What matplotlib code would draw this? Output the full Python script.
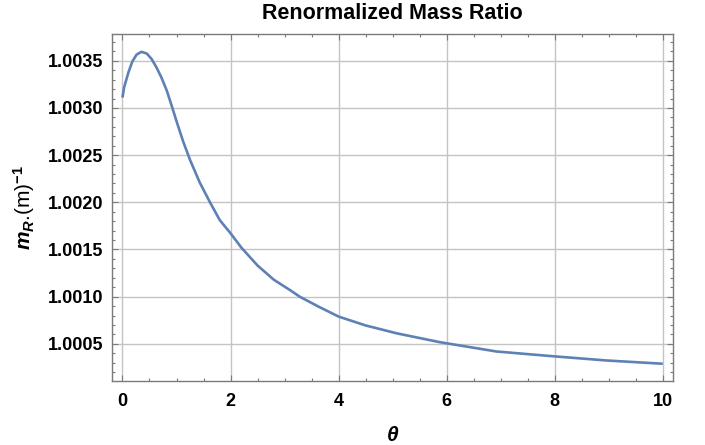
#!/usr/bin/env python3
"""Renormalized mass ratio vs theta, redrawn in matplotlib."""

import matplotlib
matplotlib.use("Agg")
import matplotlib.pyplot as plt
from matplotlib.ticker import MultipleLocator, FormatStrFormatter

# values
theta = [0.00, 0.03, 0.11, 0.18, 0.26, 0.35, 0.45, 0.54, 0.63, 0.72,
         0.82, 0.91, 1.00, 1.12, 1.25, 1.43, 1.62, 1.80, 2.00, 2.20,
         2.50, 2.80, 3.10, 3.28, 3.62, 4.00, 4.50, 5.08, 5.87, 6.92,
         7.98, 8.95, 10.0]
mass_ratio = [1.003110, 1.003218, 1.003377, 1.003489, 1.003565, 1.003595,
              1.003577, 1.003518, 1.003429, 1.003324, 1.003184, 1.003025,
              1.002860, 1.002650, 1.002450, 1.002210, 1.002000, 1.001812,
              1.001672, 1.001520, 1.001330, 1.001180, 1.001070, 1.001000,
              1.000897, 1.000789, 1.000695, 1.000611, 1.000518, 1.000419,
              1.000368, 1.000324, 1.000289]

x_ticks = [0, 2, 4, 6, 8, 10]
y_ticks = [1.0005, 1.0010, 1.0015, 1.0020, 1.0025, 1.0030, 1.0035]

plt.rcParams['font.family'] = ['Liberation Sans', 'DejaVu Sans']
plt.rcParams['font.weight'] = 'bold'
plt.rcParams['mathtext.fontset'] = 'custom'
plt.rcParams['mathtext.it'] = 'Liberation Sans:italic:bold'
plt.rcParams['mathtext.rm'] = 'Liberation Sans:bold'
plt.rcParams['mathtext.bf'] = 'Liberation Sans:bold'

frame_col = '#7a7a7a'
grid_col = '#c4c4c4'
line_col = '#5e81b5'

fig = plt.figure(figsize=(7.05, 4.45), dpi=100)
ax = fig.add_axes([0.1584, 0.1438, 0.7962, 0.7798])

ax.plot(theta, mass_ratio, color=line_col, linewidth=1.9,
        solid_joinstyle='round', solid_capstyle='butt')

ax.set_xlim(-0.2, 10.19)
ax.set_ylim(1.000106, 1.003784)
ax.set_xticks(x_ticks)
ax.set_yticks(y_ticks)
ax.yaxis.set_major_formatter(FormatStrFormatter('%.4f'))
ax.xaxis.set_minor_locator(MultipleLocator(0.5))
ax.yaxis.set_minor_locator(MultipleLocator(0.0001))

ax.grid(True, which='major', color=grid_col, linewidth=1.0)
ax.set_axisbelow(True)

for spine in ax.spines.values():
    spine.set_color(frame_col)
    spine.set_linewidth(1.0)

ax.tick_params(which='both', direction='in', top=True, right=True,
               color=frame_col, width=0.8)
ax.tick_params(which='major', length=4.5, labelsize=13)
ax.tick_params(which='minor', length=2.5)
ax.tick_params(axis='x', which='major', pad=8.5)
ax.tick_params(axis='y', which='major', pad=6.3)

ax.set_title('Renormalized Mass Ratio', fontsize=15.5, fontweight='bold', pad=11)
ax.set_xlabel(r'$\theta$', fontsize=15)
ax.set_ylabel(r'$m_R$.(m)$^{-1}$', fontsize=15)
ax.xaxis.set_label_coords(0.5, -0.13)
ax.yaxis.set_label_coords(-0.133, 0.5)

fig.savefig('out.png', dpi=100)
